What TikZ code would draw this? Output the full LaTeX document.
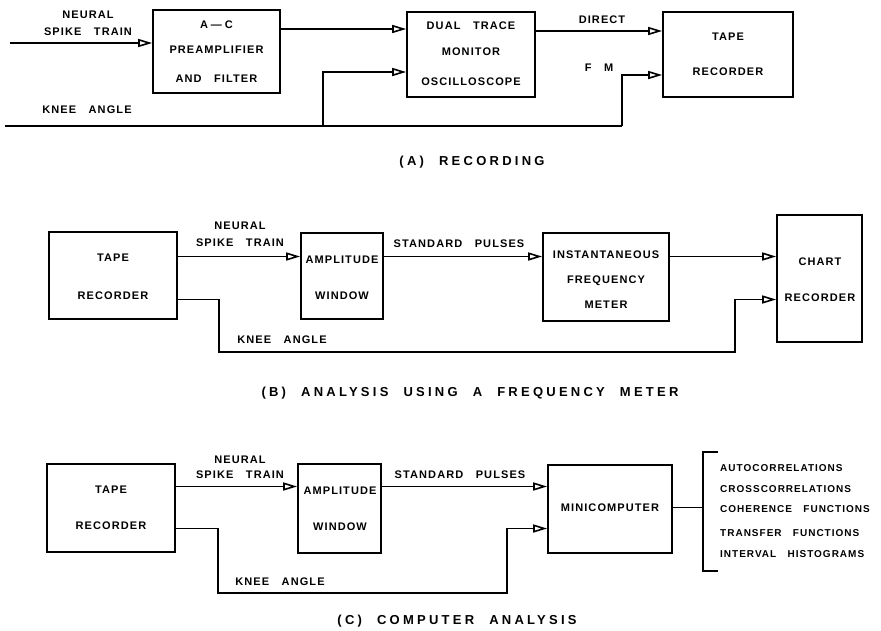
\documentclass[tikz,border=0pt]{standalone}
\usepackage{fontspec}
\setmainfont{Liberation Sans}[LetterSpace=10, WordSpace=3]
\newfontfamily\capfont{Liberation Sans}[LetterSpace=25, WordSpace=2.2]
\usetikzlibrary{arrows.meta}
\begin{document}
\begin{tikzpicture}[x=1pt,y=-1pt,
  box/.style={draw, line width=1.7pt, inner sep=0pt},
  lbl/.style={font=\bfseries\fontsize{11}{13}\selectfont, inner sep=0pt, text height=7.9pt, text depth=0pt},
  lst/.style={font=\bfseries\fontsize{10}{12}\selectfont, inner sep=0pt, text height=7.2pt, text depth=0pt, anchor=west},
  captxt/.style={font=\capfont\bfseries\fontsize{13}{15}\selectfont, inner sep=0pt, text height=9.3pt, text depth=0pt},
  wire/.style={line width=1.6pt},
  arr/.style={line width=1.6pt, -{Triangle[open, length=14pt, width=8pt]}}]
\useasboundingbox (0,0) rectangle (881,630);

% ---------------- (A) RECORDING ----------------
\node[box, minimum width=127pt, minimum height=83pt] (acp) at (216.5,51.5) {};
\node[lbl] (acp1) at (216.5,25) {A\kern3pt---\kern3pt C};
\node[lbl] (acp2) at (216.5,50) {PREAMPLIFIER};
\node[lbl] (acp3) at (216.5,79) {AND FILTER};

\node[box, minimum width=128pt, minimum height=85pt] (dt) at (471,54.5) {};
\node[lbl] (dt1) at (471,26) {DUAL TRACE};
\node[lbl] (dt2) at (471,52) {MONITOR};
\node[lbl] (dt3) at (471,82) {OSCILLOSCOPE};

\node[box, minimum width=130pt, minimum height=85pt] (trA) at (728,54.5) {};
\node[lbl] (trA1) at (728,37) {TAPE};
\node[lbl] (trA2) at (728,72) {RECORDER};

\node[lbl] (nA1) at (88,15) {NEURAL};
\node[lbl] (nA2) at (88,32) {SPIKE TRAIN};
\node[lbl] (kAl) at (87,110) {KNEE ANGLE};
\node[lbl] (dirA) at (602,20) {DIRECT};
\node[lbl] (fmA) at (599,68) {F M};

\coordinate (nin) at (10,43);
\coordinate (yA1) at (0,29);
\coordinate (yA2) at (0,31);
\coordinate (yA3) at (0,72);
\coordinate (yA4) at (0,75);
\coordinate (kA) at (5,126);
\coordinate (jA1) at (323,126);
\coordinate (jA2) at (622,126);

\draw[arr] (nin) -- (acp.west |- nin);
\draw[arr] (acp.east |- yA1) -- (dt.west |- yA1);
\draw[arr] (dt.east |- yA2) -- (trA.west |- yA2);
\draw[wire] (kA) -- (jA2);
\draw[arr] (jA1) |- (dt.west |- yA3);
\draw[arr] (jA2) |- (trA.west |- yA4);

\node[captxt] (capA) at (472,161) {(A) RECORDING};

% ---------------- (B) FREQUENCY METER ----------------
\node[box, minimum width=128pt, minimum height=87pt] (trB) at (113,275.5) {};
\node[lbl] (trB1) at (113,258) {TAPE};
\node[lbl] (trB2) at (113,296) {RECORDER};

\node[box, minimum width=82pt, minimum height=86pt] (ampB) at (342,276) {};
\node[lbl] (ampB1) at (342,260) {AMPLITUDE};
\node[lbl] (ampB2) at (342,296) {WINDOW};

\node[box, minimum width=126pt, minimum height=88pt] (instB) at (606,277) {};
\node[lbl] (instB1) at (606,255) {INSTANTANEOUS};
\node[lbl] (instB2) at (606,280) {FREQUENCY};
\node[lbl] (instB3) at (606,305) {METER};

\node[box, minimum width=85pt, minimum height=127pt] (chB) at (819.5,278.5) {};
\node[lbl] (chB1) at (820,262) {CHART};
\node[lbl] (chB2) at (820,298) {RECORDER};

\node[lbl] (nB1) at (240,226) {NEURAL};
\node[lbl] (nB2) at (240,243) {SPIKE TRAIN};
\node[lbl] (spB) at (459,244) {STANDARD PULSES};
\node[lbl] (kBl) at (282,340) {KNEE ANGLE};

\coordinate (yB1) at (0,256.5);
\coordinate (yB2) at (0,299.5);
\coordinate (jB1) at (219,352);
\coordinate (jB2) at (735,352);

\draw[arr] (trB.east |- yB1) -- (ampB.west |- yB1);
\draw[arr] (ampB.east |- yB1) -- (instB.west |- yB1);
\draw[arr] (instB.east |- yB1) -- (chB.west |- yB1);
\draw[arr] (trB.east |- yB2) -| (jB1) -- (jB2) |- (chB.west |- yB2);

\node[captxt] (capB) at (470,392) {(B) ANALYSIS USING A FREQUENCY METER};

% ---------------- (C) COMPUTER ANALYSIS ----------------
\node[box, minimum width=128pt, minimum height=88pt] (trC) at (111,508) {};
\node[lbl] (trC1) at (111,490) {TAPE};
\node[lbl] (trC2) at (111,526) {RECORDER};

\node[box, minimum width=83pt, minimum height=89pt] (ampC) at (339.5,508.5) {};
\node[lbl] (ampC1) at (340,491) {AMPLITUDE};
\node[lbl] (ampC2) at (340,527) {WINDOW};

\node[box, minimum width=124pt, minimum height=88pt] (mini) at (610,509) {};
\node[lbl] (mini1) at (610,508) {MINICOMPUTER};

\node[lbl] (nC1) at (240,460) {NEURAL};
\node[lbl] (nC2) at (240,475) {SPIKE TRAIN};
\node[lbl] (spC) at (460,475) {STANDARD PULSES};
\node[lbl] (kCl) at (280,582) {KNEE ANGLE};

\coordinate (yC1) at (0,486.5);
\coordinate (yC2) at (0,528.5);
\coordinate (yC3) at (0,507.5);
\coordinate (jC1) at (218,593);
\coordinate (jC2) at (507,593);
\coordinate (brm) at (703,507.5);
\coordinate (brt) at (703,452);
\coordinate (brb) at (703,571);
\coordinate (brt2) at (718,452);
\coordinate (brb2) at (718,571);

\draw[arr] (trC.east |- yC1) -- (ampC.west |- yC1);
\draw[arr] (ampC.east |- yC1) -- (mini.west |- yC1);
\draw[arr] (trC.east |- yC2) -| (jC1) -- (jC2) |- (mini.west |- yC2);
\draw[wire] (mini.east |- yC3) -- (brm);
\draw[wire] (brt2) -- (brt) -- (brb) -- (brb2);

\node[lst] (o1) at (720,468) {AUTOCORRELATIONS};
\node[lst] (o2) at (720,489) {CROSSCORRELATIONS};
\node[lst] (o3) at (720,509) {COHERENCE FUNCTIONS};
\node[lst] (o4) at (720,533) {TRANSFER FUNCTIONS};
\node[lst] (o5) at (720,554) {INTERVAL HISTOGRAMS};

\node[captxt] (capC) at (457,620) {(C) COMPUTER ANALYSIS};
\end{tikzpicture}
\end{document}
